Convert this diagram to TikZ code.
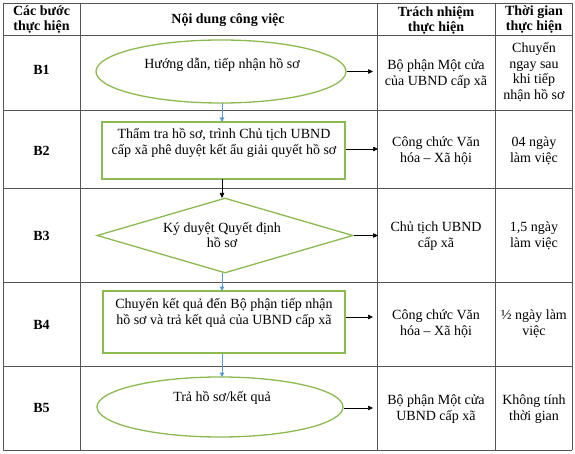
\documentclass[tikz,border=0pt]{standalone}
\usepackage{fontspec}
\setmainfont{Liberation Serif}
\usetikzlibrary{shapes.geometric,arrows.meta}
\definecolor{flowgreen}{RGB}{140,186,80}
\definecolor{flowblue}{RGB}{91,155,213}
\definecolor{gridgray}{RGB}{85,85,85}
\begin{document}
\begin{tikzpicture}[x=1pt,y=-1pt,
  font=\fontsize{14}{15.8}\selectfont,
  gridline/.style={draw=gridgray,line width=0.8pt},
  cell/.style={align=center,inner sep=0pt},
  hdr/.style={cell,font=\fontsize{14}{15}\selectfont\bfseries},
  stepname/.style={cell,font=\fontsize{14}{15.8}\selectfont\bfseries},
  flowshape/.style={draw=flowgreen,line width=1.3pt,inner sep=0pt},
  ovalshape/.style={flowshape,ellipse},
  boxshape/.style={flowshape,rectangle},
  decshape/.style={flowshape,diamond},
  flowtext/.style={cell},
  blackarrow/.style={draw=black,line width=0.7pt,-{Triangle[length=5pt,width=4.5pt]}},
  bluearrow/.style={draw=flowblue,line width=0.8pt,-{Triangle[length=4.5pt,width=4.5pt]}}
]
\useasboundingbox[fill=white] (0,0) rectangle (575,454);

% table grid
\foreach \xx in {3,80,377,495,572} \draw[gridline] (\xx,3) -- (\xx,450);
\foreach \yy in {3,35,110,188,282,366,450} \draw[gridline] (3,\yy) -- (572,\yy);

% flow shapes
\node[ovalshape,minimum width=250pt,minimum height=63pt] (s1) at (221,71.5) {};
\node[boxshape,minimum width=243pt,minimum height=57pt] (s2) at (223.5,150.5) {};
\node[decshape,minimum width=256pt,minimum height=75pt] (s3) at (225,235.5) {};
\node[boxshape,minimum width=242pt,minimum height=62pt] (s4) at (224,322) {};
\node[ovalshape,minimum width=246pt,minimum height=60pt] (s5) at (220,407) {};

% header
\node[hdr] (h1) at (41.5,20) {Các bước\\thực hiện};
\node[hdr] (h2) at (228,20) {Nội dung công việc};
\node[hdr] (h3) at (436,20) {Trách nhiệm\\thực hiện};
\node[hdr] (h4) at (534,20) {Thời gian\\thực hiện};

% step names
\node[stepname] (b1) at (41.5,70) {B1};
\node[stepname] (b2) at (41.5,151) {B2};
\node[stepname] (b3) at (41.5,236) {B3};
\node[stepname] (b4) at (41.5,325) {B4};
\node[stepname] (b5) at (41.5,408) {B5};

% responsibility column
\node[cell] (r1) at (436,74) {Bộ phận Một cửa\\của UBND cấp xã};
\node[cell] (r2) at (436,151) {Công chức Văn\\hóa – Xã hội};
\node[cell] (r3) at (436,236) {Chủ tịch UBND\\cấp xã};
\node[cell] (r4) at (436,324) {Công chức Văn\\hóa – Xã hội};
\node[cell] (r5) at (436,409) {Bộ phận Một cửa\\UBND cấp xã};

% time column
\node[cell] (t1) at (534,72) {Chuyển\\ngay sau\\khi tiếp\\nhận hồ sơ};
\node[cell] (t2) at (534,151) {04 ngày\\làm việc};
\node[cell] (t3) at (534,236) {1,5 ngày\\làm việc};
\node[cell] (t4) at (534,324) {½ ngày làm\\việc};
\node[cell] (t5) at (534,409) {Không tính\\thời gian};

\node[flowtext] (s1t) at (222,65) {Hướng dẫn, tiếp nhận hồ sơ};
\node[flowtext] (s2t) at (224,143) {Thẩm tra hồ sơ, trình Chủ tịch UBND\\cấp xã phê duyệt kết ẩu giải quyết hồ sơ};
\node[flowtext] (s3t) at (222,235) {Ký duyệt Quyết định\\hồ sơ};
\node[flowtext] (s4t) at (224,313) {Chuyển kết quả đến Bộ phận tiếp nhận\\hồ sơ và trả kết quả của UBND cấp xã};
\node[flowtext] (s5t) at (222,398) {Trả hồ sơ/kết quả};

% arrow ends at the responsibility column
\coordinate (e1) at (373,71.5);
\coordinate (e2) at (378,149);
\coordinate (e3) at (378,235.5);
\coordinate (e4) at (373,317);
\coordinate (e5) at (373,408);

\draw[blackarrow] (s1.east) -- (e1);
\draw[blackarrow] (s2.east |- e2) -- (e2);
\draw[blackarrow] (s3.east) -- (e3);
\draw[blackarrow] (s4.east |- e4) -- (e4);
\draw[blackarrow] (s5.east |- e5) -- (e5);

% vertical flow arrows
\draw[bluearrow] (222,103) -- (222,122);
\draw[blackarrow] (222,179) -- (222,198);
\draw[bluearrow] (222,273) -- (222,291);
\draw[bluearrow] (222,354) -- (222,377);
\end{tikzpicture}
\end{document}
